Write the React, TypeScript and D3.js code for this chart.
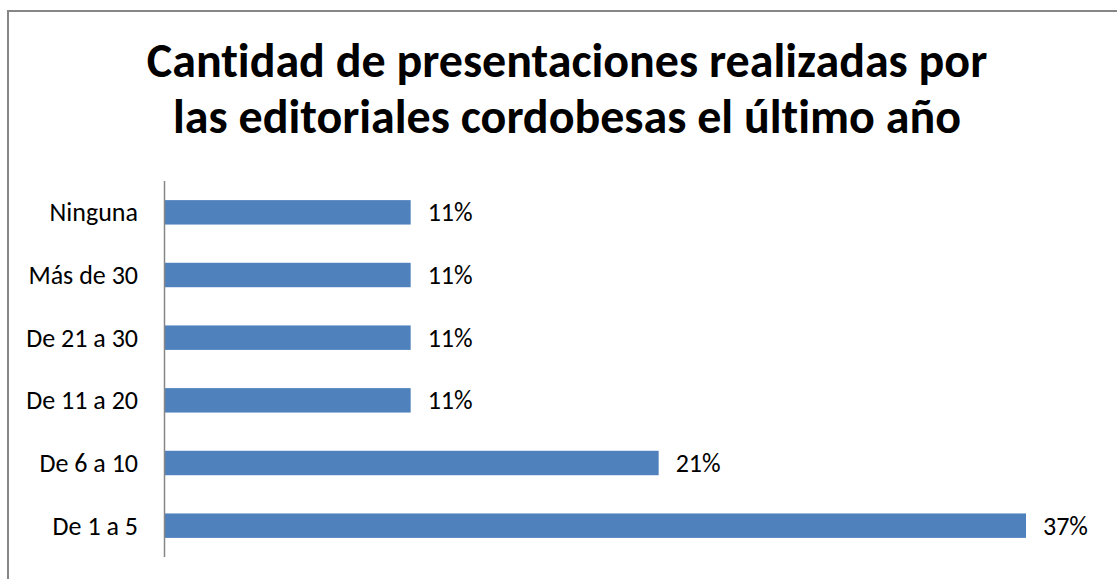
import React from "react";
import * as d3 from "d3";

const categories = ["Ninguna", "Más de 30", "De 21 a 30", "De 11 a 20", "De 6 a 10", "De 1 a 5"];
const values = [10.5, 10.5, 10.5, 10.5, 21.1, 36.8];
const valueLabels = ["11%", "11%", "11%", "11%", "21%", "37%"];
const titleLines = [
  "Cantidad de presentaciones realizadas por",
  "las editoriales cordobesas el último año",
];

const W = 1117;
const H = 579;
const FONT = "Carlito, 'Open Sans', sans-serif";

export default function App() {
  const x = d3.scaleLinear().domain([0, 36.8]).range([165, 1026]);
  const y = d3.scaleBand<string>().domain(categories).range([181, 557]).paddingInner(0.61).paddingOuter(0.305);
  const bw = y.bandwidth();

  return (
    <svg
      width={W}
      height={H}
      style={{ position: "absolute", left: 0, top: 0, background: "#fff", fontVariantLigatures: "none", fontFeatureSettings: "'liga' 0" }}
      fontFamily={FONT}
    >
      <rect x={8} y={11} width={W + 20} height={H + 20} fill="#fff" stroke="#868686" strokeWidth={2} />
      {titleLines.map((t, i) => (
        <text
          key={i}
          x={567}
          y={77 + i * 56}
          textAnchor="middle"
          fontSize={48}
          fontWeight="bold"
          fill="#000"
        >
          {t}
        </text>
      ))}
      {categories.map((c, i) => {
        const yy = y(c)!;
        return (
          <g key={c}>
            <rect x={x(0)} y={yy} width={x(values[i]) - x(0)} height={bw} fill="#4f81bd" />
            <text x={138} y={yy + bw / 2} dy="0.35em" textAnchor="end" fontSize={26} fill="#000">
              {c}
            </text>
            <text x={x(values[i]) + 17} y={yy + bw / 2} dy="0.35em" textAnchor="start" fontSize={26} fill="#000">
              {valueLabels[i]}
            </text>
          </g>
        );
      })}
      <line x1={164.5} x2={164.5} y1={181} y2={557} stroke="#868686" strokeWidth={1.5} />
    </svg>
  );
}
